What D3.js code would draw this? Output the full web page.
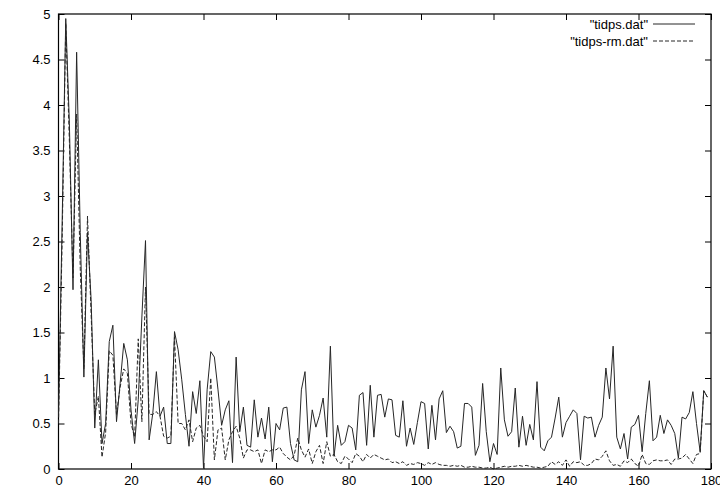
<!DOCTYPE html>
<html>
<head>
<meta charset="utf-8">
<script src="https://cdn.jsdelivr.net/npm/d3@7"></script>
<style>
  html, body { margin: 0; padding: 0; background: #fff; }
  svg { display: block; }
  text { font-family: "Liberation Sans", Arial, sans-serif; font-size: 13px; fill: #000; }
</style>
</head>
<body>
<svg id="chart" width="720" height="504"></svg>
<script>
const seriesNames = ['"tidps.dat"', '"tidps-rm.dat"'];
const xTicks = [0, 20, 40, 60, 80, 100, 120, 140, 160, 180];
const yTicks = [0, 0.5, 1, 1.5, 2, 2.5, 3, 3.5, 4, 4.5, 5];
const yTickLabels = ["0", "0.5", "1", "1.5", "2", "2.5", "3", "3.5", "4", "4.5", "5"];

const tidps = [
  0.6, 2.7, 4.95, 3.8, 1.97, 4.58, 2.6, 1.01, 2.6, 1.86,
  0.45, 1.2, 0.28, 0.5, 1.40, 1.58, 0.52, 0.94, 1.38, 1.2,
  0.65, 0.28, 0.76, 1.67, 2.51, 0.32, 0.61, 1.07, 0.58, 0.68,
  0.28, 0.28, 1.51, 1.31, 0.98, 0.6, 0.25, 0.85, 0.61, 0.97,
  0.01, 0.87, 1.29, 1.23, 0.87, 0.48, 0.65, 0.75, 0.07, 1.23,
  0.41, 0.68, 0.26, 0.24, 0.76, 0.35, 0.56, 0.33, 0.68, 0.08,
  0.50, 0.43, 0.67, 0.68, 0.28, 0.10, 0.08, 0.87, 1.07, 0.28,
  0.65, 0.46, 0.59, 0.78, 0.35, 1.35, 0.14, 0.48, 0.26, 0.30,
  0.48, 0.45, 0.21, 0.81, 0.84, 0.26, 0.92, 0.35, 0.81, 0.82,
  0.57, 0.77, 0.76, 0.37, 0.35, 0.75, 0.25, 0.45, 0.27, 0.51,
  0.74, 0.72, 0.22, 0.70, 0.32, 0.77, 0.86, 0.40, 0.47, 0.41,
  0.23, 0.25, 0.72, 0.72, 0.68, 0.15, 0.26, 0.94, 0.41, 0.08,
  0.28, 0.16, 1.11, 0.54, 0.36, 0.41, 0.89, 0.24, 0.58, 0.26,
  0.49, 0.32, 0.96, 0.24, 0.20, 0.31, 0.35, 0.56, 0.79, 0.35,
  0.51, 0.58, 0.65, 0.61, 0.10, 0.58, 0.56, 0.57, 0.35, 0.48,
  0.57, 1.11, 0.77, 1.35, 0.35, 0.22, 0.39, 0.11, 0.46, 0.49,
  0.59, 0.19, 0.61, 0.97, 0.31, 0.35, 0.59, 0.39, 0.54, 0.48,
  0.39, 0.12, 0.57, 0.55, 0.62, 0.85, 0.50, 0.19, 0.86, 0.79
];

const tidpsRm = [
  0.5, 2.5, 4.9, 3.6, 2.1, 3.9, 2.2, 1.1, 2.78, 1.7,
  0.6, 0.8, 0.13, 0.4, 1.3, 1.25, 0.6, 0.9, 1.1, 1.05,
  0.5, 0.35, 1.43, 0.52, 2.0, 0.6, 0.6, 0.63, 0.58, 0.36,
  0.34, 0.36, 1.45, 0.5, 0.5, 0.43, 0.54, 0.30, 0.45, 0.48,
  0.36, 0.30, 1.0, 0.10, 0.43, 0.45, 0.10, 0.32, 0.41, 0.47,
  0.34, 0.12, 0.21, 0.21, 0.19, 0.21, 0.06, 0.21, 0.19, 0.21,
  0.21, 0.24, 0.17, 0.13, 0.10, 0.15, 0.34, 0.21, 0.13, 0.22,
  0.06, 0.19, 0.26, 0.06, 0.30, 0.14, 0.16, 0.08, 0.06, 0.14,
  0.11, 0.07, 0.17, 0.14, 0.08, 0.16, 0.12, 0.16, 0.14, 0.12,
  0.10, 0.11, 0.07, 0.08, 0.06, 0.08, 0.04, 0.06, 0.05, 0.07,
  0.06, 0.04, 0.07, 0.05, 0.07, 0.05, 0.04, 0.04, 0.03, 0.04,
  0.03, 0.04, 0.02, 0.02, 0.03, 0.02, 0.02, 0.01, 0.01, 0.02,
  0.0, 0.01, 0.02, 0.03, 0.02, 0.03, 0.03, 0.04, 0.03, 0.04,
  0.03, 0.02, 0.02, 0.01, 0.02, 0.03, 0.08, 0.05, 0.08, 0.04,
  0.10, 0.03, 0.08, 0.07, 0.08, 0.04, 0.04, 0.06, 0.11, 0.10,
  0.14, 0.20, 0.09, 0.04, 0.05, 0.03, 0.09, 0.07, 0.11, 0.06,
  0.03, 0.16, 0.06, 0.05, 0.09, 0.10, 0.09, 0.09, 0.10, 0.05,
  0.11, 0.11, 0.12, 0.16, 0.11, 0.06, 0.16, 0.17, 0.86, 0.79
];

(function () {
  const mLeft = 58.5, mRight = 711, mTop = 14, mBottom = 469;

  const svg = d3.select("#chart");
  const x = d3.scaleLinear().domain([0, 180]).range([mLeft, mRight]);
  const y = d3.scaleLinear().domain([0, 5]).range([mBottom, mTop]);

  const lineCol = "#262626";
  const fontFam = '"Liberation Sans", Arial, sans-serif';

  const gx = svg.append("g").attr("transform", `translate(0,${mBottom})`)
    .call(d3.axisBottom(x).tickValues(xTicks).tickSize(-6).tickPadding(7).tickFormat(d3.format("d")));
  const gxTop = svg.append("g").attr("transform", `translate(0,${mTop})`)
    .call(d3.axisTop(x).tickValues(xTicks).tickSize(-6).tickFormat(""));
  const gy = svg.append("g").attr("transform", `translate(${mLeft},0)`)
    .call(d3.axisLeft(y).tickValues(yTicks).tickSize(-6).tickPadding(8).tickFormat((d, i) => yTickLabels[i]));
  const gyR = svg.append("g").attr("transform", `translate(${mRight},0)`)
    .call(d3.axisRight(y).tickValues(yTicks).tickSize(-6).tickFormat(""));

  [gx, gxTop, gy, gyR].forEach(g => {
    g.select(".domain").remove();
    g.selectAll(".tick line").attr("stroke", "#000").attr("stroke-width", 1);
    g.selectAll("text").attr("fill", "#000").style("font-size", "13px").style("font-family", fontFam);
  });

  svg.append("rect")
    .attr("x", mLeft).attr("y", mTop)
    .attr("width", mRight - mLeft).attr("height", mBottom - mTop)
    .attr("fill", "none").attr("stroke", "#000").attr("stroke-width", 1.2);

  const line = d3.line().x((d, i) => x(i)).y(d => y(d));

  svg.append("path").datum(tidps)
    .attr("d", line).attr("fill", "none")
    .attr("stroke", lineCol).attr("stroke-width", 1);

  svg.append("path").datum(tidpsRm)
    .attr("d", line).attr("fill", "none")
    .attr("stroke", lineCol).attr("stroke-width", 1)
    .attr("stroke-dasharray", "4,2");

  const legend = svg.append("g");
  const legRows = [
    { name: seriesNames[0], dash: null, yy: 24 },
    { name: seriesNames[1], dash: "4,2", yy: 41 }
  ];
  legRows.forEach(r => {
    legend.append("text").attr("x", 648).attr("y", r.yy).attr("dy", "0.35em")
      .attr("text-anchor", "end").style("font-family", fontFam).style("font-size", "13px").text(r.name);
    legend.append("line").attr("x1", 653).attr("x2", 695)
      .attr("y1", r.yy).attr("y2", r.yy)
      .attr("stroke", lineCol).attr("stroke-width", 1)
      .attr("stroke-dasharray", r.dash);
  });
})();
</script>
</body>
</html>
